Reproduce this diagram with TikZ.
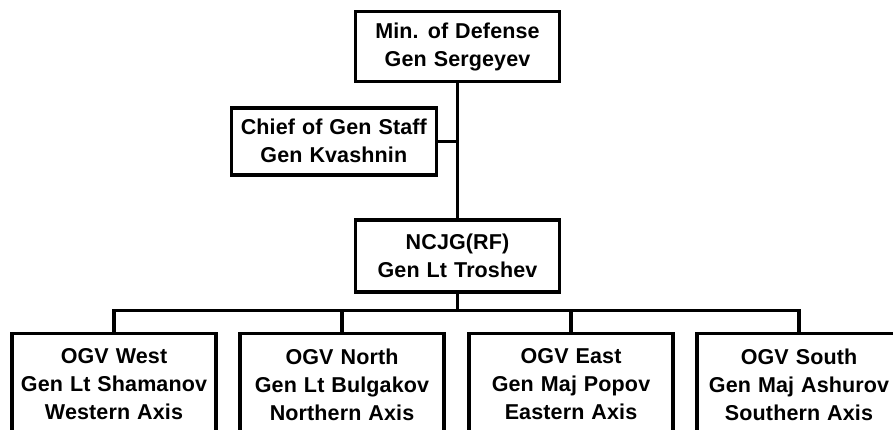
\documentclass[tikz,border=0pt]{standalone}
\usepackage{fontspec}
\setmainfont[LetterSpace=0.6,WordSpace=1.15]{Liberation Sans}
\begin{document}
\begin{tikzpicture}[x=1pt,y=-1pt,
  box/.style={draw, line width=3.5pt, align=center, font=\bfseries\fontsize{21.5}{28}\selectfont, minimum width=204pt, inner sep=0pt},
  link/.style={line width=3.5pt}]
\useasboundingbox (0,0) rectangle (893,430);
\clip (0,0) rectangle (893,430);
\node[box, minimum height=70pt] (mod) at (457.5,46.7) {Min. of Defense\\Gen Sergeyev};
\node[box, minimum width=205pt, minimum height=67pt] (cgs) at (333.8,141.3) {Chief of Gen Staff\\Gen Kvashnin};
\node[box, minimum height=72pt] (ncjg) at (457.5,255.8) {NCJG(RF)\\Gen Lt Troshev};
\node[box, minimum height=102pt, anchor=north] (west) at (114,331.7) {OGV West\\Gen Lt Shamanov\\Western Axis};
\node[box, minimum height=102pt, anchor=north] (north) at (342,331.7) {OGV North\\Gen Lt Bulgakov\\Northern Axis};
\node[box, minimum height=102pt, anchor=north] (east) at (571,331.7) {OGV East\\Gen Maj Popov\\Eastern Axis};
\node[box, minimum height=102pt, anchor=north] (south) at (799,331.7) {OGV South\\Gen Maj Ashurov\\Southern Axis};
\coordinate (bus) at (0,310.7);
\draw[link] (mod.south) -- (ncjg.north);
\draw[link] (cgs.east) -- (mod.south |- cgs.east);
\draw[link] (ncjg.south) -- (ncjg.south |- bus);
\draw[link] (west.north) -- (west.north |- bus) -- (south.north |- bus) -- (south.north);
\draw[link] (north.north) -- (north.north |- bus);
\draw[link] (east.north) -- (east.north |- bus);
\end{tikzpicture}
\end{document}
